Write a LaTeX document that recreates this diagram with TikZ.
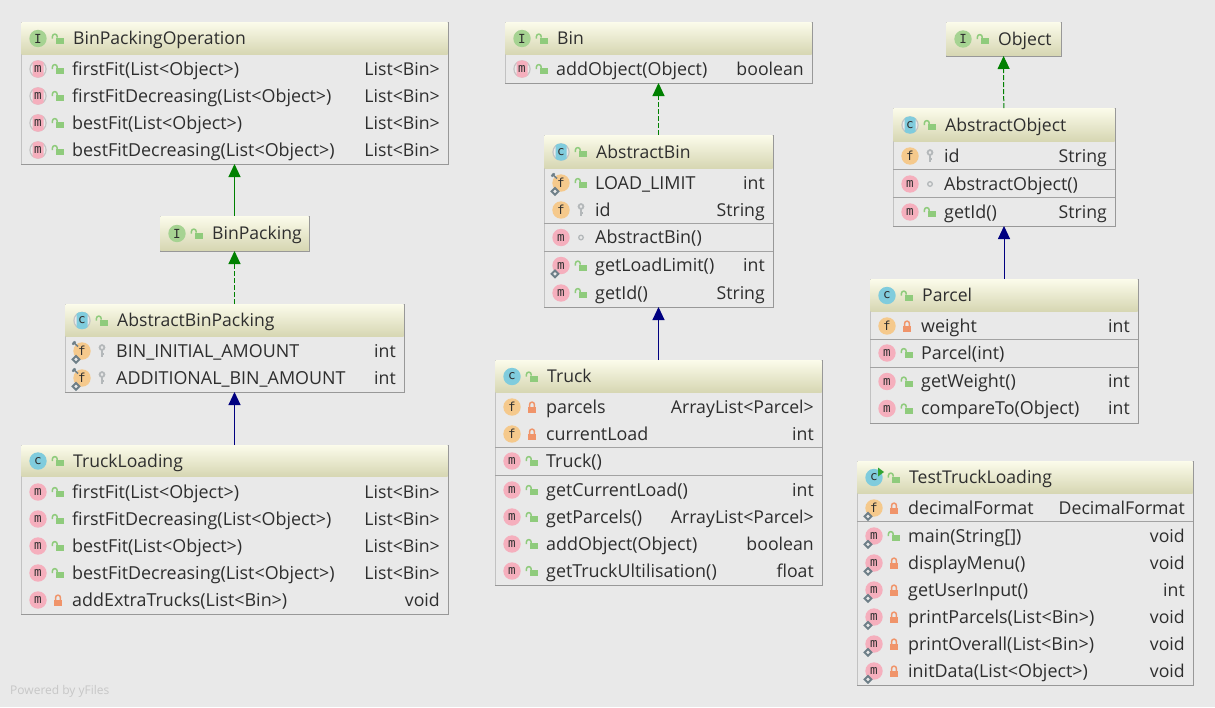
\documentclass[tikz,border=0pt]{standalone}
\usepackage{fontspec}
\setmainfont{Open Sans}
\newfontfamily\iconfont{DejaVu Sans Mono}
\usetikzlibrary{arrows.meta,calc}

\definecolor{canvas}{HTML}{E9E9E9}
\definecolor{frameline}{HTML}{C2C2C2}
\definecolor{frameshade}{HTML}{989898}
\definecolor{rowline}{HTML}{A2A2A2}
\definecolor{headtop}{HTML}{FBFBEA}
\definecolor{headlow}{HTML}{D6D6B2}
\definecolor{inktext}{HTML}{2E2E2E}
\definecolor{kindm}{HTML}{F5AFBD}
\definecolor{kindf}{HTML}{F5C98C}
\definecolor{kindc}{HTML}{80CCDD}
\definecolor{kindi}{HTML}{A6D392}
\definecolor{halfring}{HTML}{C4C4C4}
\definecolor{openlock}{HTML}{8FCB7C}
\definecolor{shutlock}{HTML}{F0946A}
\definecolor{keygrey}{HTML}{B4B8BA}
\definecolor{gearcol}{HTML}{6E7F88}
\definecolor{arrowgreen}{HTML}{008000}
\definecolor{arrownavy}{HTML}{000080}

\tikzset{
  classframe/.style={draw=frameline, fill=canvas, line width=1pt, inner sep=0pt, outer sep=0pt},
  headbar/.style={top color=headtop, bottom color=headlow, inner sep=0pt, outer sep=0pt},
  membertext/.style={anchor=base west, inner sep=0pt, text=inktext, font=\fontsize{17.9}{19}\selectfont},
  typetext/.style={anchor=base east, inner sep=0pt, text=inktext, font=\fontsize{17.7}{19}\selectfont},
  titletext/.style={anchor=base west, inner sep=0pt, text=inktext, font=\fontsize{17.6}{19}\selectfont},
  iconletter/.style={inner sep=0pt, text=inktext, font=\iconfont\fontsize{12.5}{13}\selectfont},
  implements/.style={-{Triangle[width=12pt,length=13pt]}, arrowgreen, dash pattern=on 5pt off 2pt, line width=1pt},
  extendsgreen/.style={-{Triangle[width=12pt,length=13pt]}, arrowgreen, line width=1pt},
  extendsnavy/.style={-{Triangle[width=12pt,length=13pt]}, arrownavy, line width=1pt},
  pics/plainicon/.style 2 args={code={
    \fill[#1] (0,0) circle (8.7);
    \node[iconletter] at (0,0) {#2};
  }},
  pics/halficon/.style 2 args={code={
    \fill[halfring] (0,0) circle (8.7);
    \fill[canvas] (0,0) circle (7.4);
    \begin{scope}
      \clip (-5.5,-9) rectangle (5.5,9);
      \fill[#1] (0,0) circle (8.7);
    \end{scope}
    \node[iconletter] at (0,0) {#2};
  }},
  pics/iconm/.style={code={\pic {plainicon={kindm}{m}};}},
  pics/iconmab/.style={code={\pic {halficon={kindm}{m}};}},
  pics/iconf/.style={code={\pic {plainicon={kindf}{f}};}},
  pics/iconc/.style={code={\pic {plainicon={kindc}{c}};}},
  pics/iconcab/.style={code={\pic {halficon={kindc}{c}};}},
  pics/iconi/.style={code={\pic {plainicon={kindi}{I}};}},
  pics/iconcrun/.style={code={
    \pic {plainicon={kindc}{c}};
    \fill[green!55!black!80] (4,-10) -- (10,-5.5) -- (4,-1) -- cycle;
  }},
  pics/visopen/.style={code={
    \fill[openlock] (-2,-1) rectangle (5.5,5);
    \draw[openlock, line width=1.5pt] (-0.8,-1) -- (-0.8,-2) arc (360:180:2.4) -- (-5.6,0);
  }},
  pics/visshut/.style={code={
    \fill[shutlock] (-3.8,-0.5) rectangle (3.8,5.5);
    \draw[shutlock, line width=1.5pt] (-2.4,0) -- (-2.4,-2.5) arc (180:360:2.4) -- (2.4,0);
  }},
  pics/viskey/.style={code={
    \draw[keygrey, line width=1.8pt] (0,-3.5) circle (2.4);
    \draw[keygrey, line width=2pt] (0,-1) -- (0,6);
    \draw[keygrey, line width=1.2pt] (0,3) -- (2.4,3);
  }},
  pics/visdot/.style={code={
    \draw[keygrey, line width=1.3pt] (0,0) circle (2.3);
  }},
  pics/modnone/.style={code={}},
  pics/modgear/.style={code={
    \draw[gearcol, line width=2pt] (-6,5) -- (-2.6,8.4) -- (-6,11.8) -- (-9.4,8.4) -- cycle;
    \fill[canvas] (-6,8.4) circle (1.2);
  }},
  pics/modboth/.style={code={
    \pic {modgear};
    \draw[gearcol, line width=1.5pt] (-9,-9) -- (-4,-4.5);
    \draw[gearcol, line width=2pt] (-9.5,-6.5) -- (-6.5,-9.5);
  }},
}

\newcount\rowno
% box: name, left, top, right, bottom, header bottom, icon, title
\newcommand{\classbox}[8]{
  \pgfmathsetmacro\boxl{#2}
  \pgfmathsetmacro\boxr{#4}
  \pgfmathsetmacro\iconx{#2+17}
  \pgfmathsetmacro\visx{#2+37}
  \pgfmathsetmacro\textx{#2+51}
  \pgfmathsetmacro\typex{#4-8}
  \pgfmathsetmacro\heady{(#3+#6)/2}
  \def\curbox{#1}
  \global\rowno=0
  \node[classframe, minimum width={(#4-#2)*1pt}, minimum height={(#5-#3)*1pt}] (#1) at ({(#2+#4)/2},{(#3+#5)/2}) {};
  \node[headbar, minimum width={(#4-#2-1)*1pt}, minimum height={(#6-#3-1)*1pt}] (#1-head) at ({(#2+#4)/2},{(#3+#6)/2}) {};
  \draw[frameshade, line width=1pt] (#1.south west) -- (#1.south east) -- (#1.north east);
  \pic at (\iconx,\heady) {#7};
  \pic at (\visx,\heady) {visopen};
  \node[titletext] (#1-title) at (\textx+1,\heady+6) {#8};
}
% row: y, icon, modifier, visibility, text, type
\newcommand{\member}[6]{
  \global\advance\rowno by 1
  \pic at (\iconx,#1) {#2};
  \pic at (\iconx,#1) {#3};
  \pic at (\visx,#1) {#4};
  \node[membertext] (\curbox-n\the\rowno) at (\textx,#1+6) {#5};
  \def\typearg{#6}
  \ifx\typearg\empty\else
    \node[typetext] (\curbox-t\the\rowno) at (\typex,#1+6) {#6};
  \fi
}
\newcommand{\rowsep}[1]{
  \draw[rowline, line width=1pt] (\boxl,#1) -- (\boxr,#1);
}

\begin{document}
\begin{tikzpicture}[x=1pt,y=-1pt]
  \useasboundingbox (0,0) rectangle (1215,707);
  \fill[canvas] (0,0) rectangle (1215,707);

  \classbox{binop}{21}{22}{448}{164}{55}{iconi}{BinPackingOperation}
  \member{69}{iconmab}{modnone}{visopen}{firstFit(List<Object>)}{List<Bin>}
  \member{96}{iconmab}{modnone}{visopen}{firstFitDecreasing(List<Object>)}{List<Bin>}
  \member{123}{iconmab}{modnone}{visopen}{bestFit(List<Object>)}{List<Bin>}
  \member{150}{iconmab}{modnone}{visopen}{bestFitDecreasing(List<Object>)}{List<Bin>}

  \classbox{binpacking}{160}{216}{309}{251}{251}{iconi}{BinPacking}

  \classbox{absbinpacking}{65}{304}{404}{392}{337}{iconcab}{AbstractBinPacking}
  \member{351}{iconf}{modboth}{viskey}{BIN\_INITIAL\_AMOUNT}{int}
  \member{378}{iconf}{modboth}{viskey}{ADDITIONAL\_BIN\_AMOUNT}{int}

  \classbox{truckloading}{21}{445}{448}{614}{477}{iconc}{TruckLoading}
  \member{492}{iconm}{modnone}{visopen}{firstFit(List<Object>)}{List<Bin>}
  \member{519}{iconm}{modnone}{visopen}{firstFitDecreasing(List<Object>)}{List<Bin>}
  \member{546}{iconm}{modnone}{visopen}{bestFit(List<Object>)}{List<Bin>}
  \member{573}{iconm}{modnone}{visopen}{bestFitDecreasing(List<Object>)}{List<Bin>}
  \member{600}{iconm}{modnone}{visshut}{addExtraTrucks(List<Bin>)}{void}

  \classbox{bin}{505}{22}{812}{83}{55}{iconi}{Bin}
  \member{69}{iconmab}{modnone}{visopen}{addObject(Object)}{boolean}

  \classbox{absbin}{544}{135}{773}{307}{169}{iconcab}{AbstractBin}
  \member{183}{iconf}{modboth}{visopen}{LOAD\_LIMIT}{int}
  \member{210}{iconf}{modnone}{viskey}{id}{String}
  \rowsep{223.5}
  \member{237.5}{iconm}{modnone}{visdot}{AbstractBin()}{}
  \rowsep{251.5}
  \member{265.5}{iconm}{modgear}{visopen}{getLoadLimit()}{int}
  \member{293}{iconm}{modnone}{visopen}{getId()}{String}

  \classbox{truck}{495}{360}{822}{585}{393}{iconc}{Truck}
  \member{407}{iconf}{modnone}{visshut}{parcels}{ArrayList<Parcel>}
  \member{434}{iconf}{modnone}{visshut}{currentLoad}{int}
  \rowsep{447.5}
  \member{461}{iconm}{modnone}{visopen}{Truck()}{}
  \rowsep{475.5}
  \member{490}{iconm}{modnone}{visopen}{getCurrentLoad()}{int}
  \member{517}{iconm}{modnone}{visopen}{getParcels()}{ArrayList<Parcel>}
  \member{544}{iconm}{modnone}{visopen}{addObject(Object)}{boolean}
  \member{571}{iconm}{modnone}{visopen}{getTruckUltilisation()}{float}

  \classbox{object}{946}{22}{1061}{56}{56}{iconi}{Object}

  \classbox{absobject}{893}{108}{1115}{226}{142}{iconcab}{AbstractObject}
  \member{156}{iconf}{modnone}{viskey}{id}{String}
  \rowsep{169.5}
  \member{184}{iconm}{modnone}{visdot}{AbstractObject()}{}
  \rowsep{197.5}
  \member{212}{iconm}{modnone}{visopen}{getId()}{String}

  \classbox{parcel}{870}{279}{1138}{423}{312}{iconc}{Parcel}
  \member{326}{iconf}{modnone}{visshut}{weight}{int}
  \rowsep{339.5}
  \member{353}{iconm}{modnone}{visopen}{Parcel(int)}{}
  \rowsep{367.5}
  \member{381.5}{iconm}{modnone}{visopen}{getWeight()}{int}
  \member{408.5}{iconm}{modnone}{visopen}{compareTo(Object)}{int}

  \classbox{testtruck}{857}{461}{1193}{685}{494}{iconcrun}{TestTruckLoading}
  \member{508}{iconf}{modgear}{visshut}{decimalFormat}{DecimalFormat}
  \rowsep{521.5}
  \member{536}{iconm}{modgear}{visopen}{main(String[])}{void}
  \member{563}{iconm}{modgear}{visshut}{displayMenu()}{void}
  \member{590}{iconm}{modgear}{visshut}{getUserInput()}{int}
  \member{617}{iconm}{modgear}{visshut}{printParcels(List<Bin>)}{void}
  \member{644}{iconm}{modgear}{visshut}{printOverall(List<Bin>)}{void}
  \member{671}{iconm}{modgear}{visshut}{initData(List<Object>)}{void}

  \draw[extendsgreen] (binpacking) -- (binop);
  \draw[implements] (absbinpacking) -- (binpacking);
  \draw[extendsnavy] (truckloading) -- (absbinpacking);
  \draw[implements] (absbin) -- (bin);
  \draw[extendsnavy] (truck) -- (absbin);
  \draw[implements] (absobject) -- (object);
  \draw[extendsnavy] (parcel) -- (absobject);

  \node[anchor=base west, inner sep=0pt, text=black!22, font=\fontsize{12}{14}\selectfont] (poweredby) at (10,694) {Powered by yFiles};
\end{tikzpicture}
\end{document}
